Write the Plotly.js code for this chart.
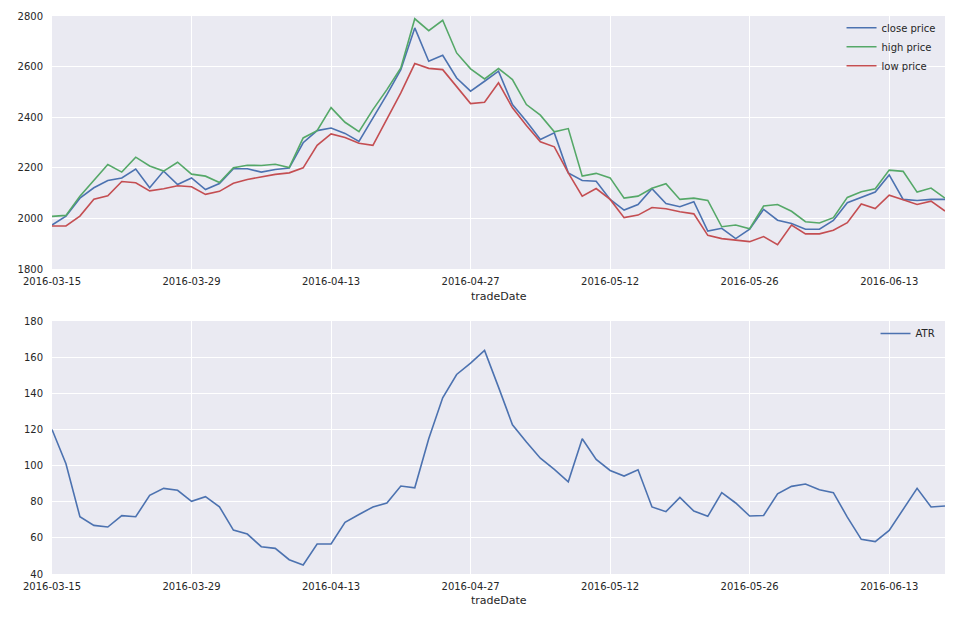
<!DOCTYPE html>
<html>
<head>
<meta charset="utf-8">
<script src="https://cdn.plot.ly/plotly-3.0.1.min.js"></script>
<style>html,body{margin:0;padding:0;background:#fff;}#chart{width:971px;height:617px;}</style>
</head>
<body>
<div id="chart"></div>
<script>
var tradeDates = [
"2016-03-15","2016-03-16","2016-03-17","2016-03-18","2016-03-21","2016-03-22","2016-03-23","2016-03-24","2016-03-25","2016-03-28",
"2016-03-29","2016-03-30","2016-03-31","2016-04-01","2016-04-05","2016-04-06","2016-04-07","2016-04-08","2016-04-11","2016-04-12",
"2016-04-13","2016-04-14","2016-04-15","2016-04-18","2016-04-19","2016-04-20","2016-04-21","2016-04-22","2016-04-25","2016-04-26",
"2016-04-27","2016-04-28","2016-04-29","2016-05-03","2016-05-04","2016-05-05","2016-05-06","2016-05-09","2016-05-10","2016-05-11",
"2016-05-12","2016-05-13","2016-05-16","2016-05-17","2016-05-18","2016-05-19","2016-05-20","2016-05-23","2016-05-24","2016-05-25",
"2016-05-26","2016-05-27","2016-05-30","2016-05-31","2016-06-01","2016-06-02","2016-06-03","2016-06-06","2016-06-07","2016-06-08",
"2016-06-13","2016-06-14","2016-06-15","2016-06-16","2016-06-17"];

var closePrice = [
1974,2009,2080,2121,2150,2160,2195,2121,2187,2134,
2160,2114,2138,2196,2196,2183,2193,2199,2299,2347,
2357,2336,2304,2395,2489,2588,2753,2621,2645,2555,
2503,2542,2582,2450,2384,2312,2338,2180,2150,2147,
2075,2033,2055,2117,2059,2046,2066,1950,1961,1920,
1957,2036,1993,1980,1957,1957,1992,2062,2082,2104,
2172,2075,2071,2075,2075];

var highPrice = [
2008,2012,2088,2150,2213,2183,2242,2207,2187,2222,
2175,2167,2142,2200,2210,2209,2214,2201,2318,2347,
2438,2380,2343,2430,2509,2595,2789,2742,2783,2654,
2591,2551,2592,2549,2450,2408,2342,2355,2167,2178,
2160,2080,2088,2119,2137,2075,2080,2071,1967,1974,
1959,2049,2055,2028,1987,1982,2003,2083,2105,2117,
2191,2186,2104,2120,2080];

var lowPrice = [
1970,1970,2009,2076,2089,2146,2141,2109,2117,2129,
2125,2095,2107,2139,2154,2164,2174,2180,2200,2289,
2334,2320,2297,2289,2391,2496,2612,2593,2588,2520,
2454,2459,2536,2437,2367,2303,2283,2180,2088,2118,
2075,2003,2013,2043,2038,2026,2018,1933,1920,1914,
1908,1928,1896,1974,1939,1939,1953,1983,2057,2039,
2092,2074,2055,2068,2029];

var atr = [
120,101,71.7,66.9,66,72.3,71.7,83.5,87.4,86.3,
80.2,82.8,77.2,64.3,62.1,55.1,54.2,47.9,45,56.6,
56.6,68.6,72.9,77.1,79.3,88.7,87.7,114.8,137.5,150.4,
156.7,163.7,143.4,122.6,113,104.1,97.9,91,114.8,103.4,
97.3,94.2,97.7,77.1,74.5,82.4,74.8,71.9,85,79.3,
72.1,72.4,84.4,88.5,89.8,86.6,85,71.5,59.2,57.9,
64.1,75.8,87.4,77.1,77.6];

var xTickVals = ["2016-03-15","2016-03-29","2016-04-13","2016-04-27","2016-05-12","2016-05-26","2016-06-13"];
var topTicks = [1800,2000,2200,2400,2600,2800];
var bottomTicks = [40,60,80,100,120,140,160,180];

var textColor = "#262626";
var fontFam = "DejaVu Sans, sans-serif";

var traces = [
  {x: tradeDates, y: closePrice, name: "close price", type: "scatter", mode: "lines",
   line: {color: "#4C72B0", width: 1.6}, xaxis: "x", yaxis: "y", legend: "legend"},
  {x: tradeDates, y: highPrice, name: "high price", type: "scatter", mode: "lines",
   line: {color: "#55A868", width: 1.6}, xaxis: "x", yaxis: "y", legend: "legend"},
  {x: tradeDates, y: lowPrice, name: "low price", type: "scatter", mode: "lines",
   line: {color: "#C44E52", width: 1.6}, xaxis: "x", yaxis: "y", legend: "legend"},
  {x: tradeDates, y: atr, name: "ATR", type: "scatter", mode: "lines",
   line: {color: "#4C72B0", width: 1.6}, xaxis: "x2", yaxis: "y2", legend: "legend2"}
];

function xAxis(anchor) {
  return {
    type: "category", anchor: anchor, range: [0, tradeDates.length - 1],
    tickvals: xTickVals, ticktext: xTickVals,
    showgrid: true, gridcolor: "#ffffff", gridwidth: 1,
    zeroline: false, showline: false,
    ticks: "outside", ticklen: 3, tickcolor: "rgba(0,0,0,0)",
    tickfont: {family: fontFam, size: 10, color: textColor},
    fixedrange: true
  };
}
function yAxis(anchor, domain, range, ticks) {
  return {
    anchor: anchor, domain: domain, range: range, tickvals: ticks,
    showgrid: true, gridcolor: "#ffffff", gridwidth: 1,
    zeroline: false, showline: false,
    ticks: "outside", ticklen: 6, tickcolor: "rgba(0,0,0,0)",
    tickfont: {family: fontFam, size: 10, color: textColor},
    fixedrange: true
  };
}

var layout = {
  width: 971, height: 617,
  margin: {l: 52, r: 26, t: 16, b: 43},
  paper_bgcolor: "#ffffff", plot_bgcolor: "#EAEAF2",
  showlegend: true,
  font: {family: fontFam, size: 10, color: textColor},
  xaxis: xAxis("y"),
  yaxis: yAxis("x", [0.5466, 1], [1800, 2800], topTicks),
  xaxis2: xAxis("y2"),
  yaxis2: yAxis("x2", [0, 0.4534], [40, 180], bottomTicks),
  legend: {x: 0.995, xanchor: "right", y: 1.005, yanchor: "top", bgcolor: "rgba(0,0,0,0)",
           font: {family: fontFam, size: 10, color: textColor}, tracegroupgap: 0, itemwidth: 30},
  legend2: {x: 0.995, xanchor: "right", y: 0.457, yanchor: "top", bgcolor: "rgba(0,0,0,0)",
           font: {family: fontFam, size: 10, color: textColor}, itemwidth: 30},
  annotations: [
    {text: "tradeDate", xref: "paper", yref: "paper", x: 0.5, y: 0.498, xanchor: "center", yanchor: "middle",
     showarrow: false, font: {family: fontFam, size: 11, color: textColor}},
    {text: "tradeDate", xref: "paper", yref: "paper", x: 0.5, y: -0.0466, xanchor: "center", yanchor: "middle",
     showarrow: false, font: {family: fontFam, size: 11, color: textColor}}
  ]
};

Plotly.newPlot("chart", traces, layout, {displayModeBar: false, staticPlot: true});
</script>
</body>
</html>
